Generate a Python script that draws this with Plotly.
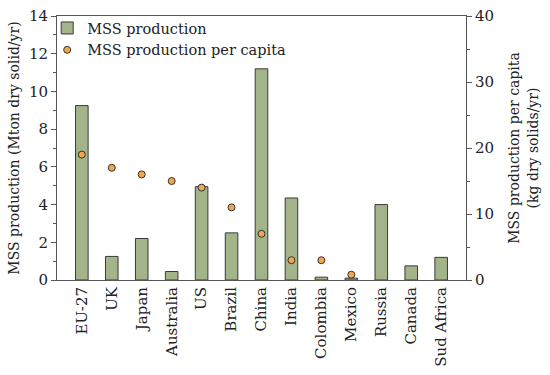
import plotly.graph_objects as go

countries = ["EU-27", "UK", "Japan", "Australia", "US", "Brazil", "China",
             "India", "Colombia", "Mexico", "Russia", "Canada", "Sud Africa"]
production = [9.25, 1.25, 2.2, 0.45, 4.95, 2.5, 11.2, 4.35, 0.15, 0.1, 4.0, 0.75, 1.2]
per_capita = [19, 17, 16, 15, 14, 11, 7, 3, 3, 0.8, None, None, None]

font = dict(family="DejaVu Serif", size=15, color="#222")

fig = go.Figure()
fig.add_trace(go.Bar(x=countries, y=production, name="MSS production",
                     marker=dict(color="#a3b48b", line=dict(color="#3a3a3a", width=1))))
fig.add_trace(go.Scatter(x=countries, y=per_capita, name="MSS production per capita",
                         mode="markers", yaxis="y2",
                         marker=dict(color="#f3a54c", size=7, line=dict(color="#333", width=1))))

axis_common = dict(showline=True, linecolor="#555", linewidth=1, ticks="outside",
                   tickcolor="#555", ticklen=5, showgrid=False, zeroline=False,
                   automargin=False, tickfont=dict(size=15))

fig.update_layout(
    width=550, height=375,
    margin=dict(l=57, r=84, t=12, b=95),
    paper_bgcolor="white", plot_bgcolor="white",
    font=font,
    bargap=0.58,
    showlegend=True,
    legend=dict(x=-0.024, y=1.015, xanchor="left", yanchor="top", bgcolor="rgba(0,0,0,0)",
                font=dict(size=14.5), tracegroupgap=0, itemwidth=30),
    xaxis=dict(showline=True, linecolor="#555", linewidth=1, mirror=True, ticks="",
               tickangle=-90, showgrid=False, automargin=False, tickfont=dict(size=15)),
    yaxis=dict(range=[0, 14], dtick=2,
               title=dict(text="MSS production (Mton dry solid/yr)", standoff=6, font=dict(size=14)),
               minor=dict(dtick=1, ticks="outside", ticklen=3, tickcolor="#555"), **axis_common),
    yaxis2=dict(range=[0, 40], dtick=10, overlaying="y", side="right",
                title=dict(text="MSS production per capita<br>(kg dry solids/yr)", standoff=16, font=dict(size=14)),
                minor=dict(dtick=5, ticks="outside", ticklen=3, tickcolor="#555"), **axis_common),
)

# remove the browser's default 8px body margin so the figure sits at the page origin
fig.write_html("out.html", config={"displayModeBar": False},
               post_script="document.body.style.margin='0';")
